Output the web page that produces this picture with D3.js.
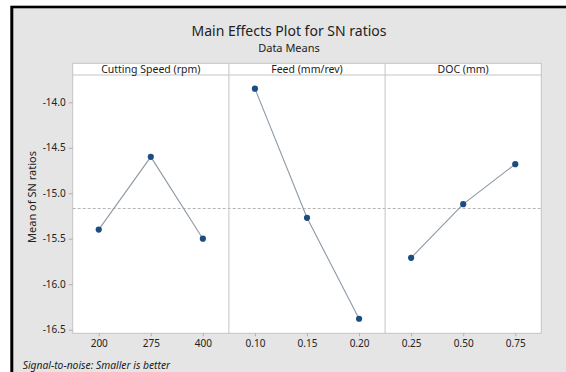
<!DOCTYPE html>
<html>
<head>
<meta charset="utf-8">
<script src="https://cdn.jsdelivr.net/npm/d3@7"></script>
<style>
  body { margin: 0; background: #fff; }
  text { font-family: "Noto Sans", "DejaVu Sans", sans-serif; fill: #222; }
</style>
</head>
<body>
<div id="wrapper"></div>
<script>
// data
const factors = ["Cutting Speed (rpm)", "Feed (mm/rev)", "DOC (mm)"]
const levels = [
  ["200", "275", "400"],
  ["0.10", "0.15", "0.20"],
  ["0.25", "0.50", "0.75"],
]
const snMeans = [
  [-15.40, -14.60, -15.50],
  [-13.85, -15.27, -16.38],
  [-15.71, -15.12, -14.68],
]
const yTicks = [-14.0, -14.5, -15.0, -15.5, -16.0, -16.5]

function drawChart() {
  const dimensions = {
    width: 566,
    height: 372,
    margin: { top: 75, left: 72.7, right: 24.7, bottom: 38.7 },
    stripHeight: 11.7,
  }
  dimensions.boundedWidth = dimensions.width - dimensions.margin.left - dimensions.margin.right
  dimensions.boundedHeight = dimensions.height - dimensions.margin.top - dimensions.margin.bottom

  const svg = d3.select("#wrapper")
    .append("svg")
      .attr("width", dimensions.width)
      .attr("height", dimensions.height)

  // black frame on top/left, grey figure background
  svg.append("rect")
      .attr("x", 10.3).attr("y", 5.7)
      .attr("width", dimensions.width).attr("height", dimensions.height)
      .attr("fill", "#000")
  svg.append("rect")
      .attr("x", 13.3).attr("y", 8.3)
      .attr("width", dimensions.width).attr("height", dimensions.height)
      .attr("fill", "#e5e5e5")

  // titles
  svg.append("text")
      .attr("x", 289).attr("y", 30.5)
      .attr("text-anchor", "middle").attr("dominant-baseline", "central")
      .style("font-size", "14px")
      .text("Main Effects Plot for SN ratios")
  svg.append("text")
      .attr("x", 289).attr("y", 47.5)
      .attr("text-anchor", "middle").attr("dominant-baseline", "central")
      .style("font-size", "11px")
      .text("Data Means")

  const bounds = svg.append("g")
      .attr("transform", `translate(${dimensions.margin.left}, ${dimensions.margin.top})`)

  // scales
  const yScale = d3.scaleLinear()
    .domain([-16.54, -13.70])
    .range([dimensions.boundedHeight, 0])

  const panelScale = d3.scaleBand()
    .domain(factors)
    .range([0, dimensions.boundedWidth])
    .padding(0)

  const grandMean = d3.mean(snMeans.flat())

  // plot area and strips
  bounds.append("rect")
      .attr("x", 0).attr("y", -dimensions.stripHeight)
      .attr("width", dimensions.boundedWidth)
      .attr("height", dimensions.boundedHeight + dimensions.stripHeight)
      .attr("fill", "#fff")
      .attr("stroke", "#c4c4c4")
  bounds.append("line")
      .attr("x1", 0).attr("x2", dimensions.boundedWidth)
      .attr("y1", 0).attr("y2", 0)
      .attr("stroke", "#c4c4c4")

  // grand mean reference line
  bounds.append("line")
      .attr("x1", 0).attr("x2", dimensions.boundedWidth)
      .attr("y1", yScale(grandMean)).attr("y2", yScale(grandMean))
      .attr("stroke", "#b5b5b5")
      .attr("stroke-dasharray", "3,2")

  // y axis (plain hyphen minus, as in the original)
  const fmt = d3.format(".1f")
  const yAxis = d3.axisLeft(yScale)
    .tickValues(yTicks)
    .tickFormat(d => fmt(d).replace("\u2212", "-"))
    .tickSize(4)
    .tickPadding(3)
  const yAxisGroup = bounds.append("g").call(yAxis)
  yAxisGroup.select(".domain").remove()
  yAxisGroup.selectAll(".tick line").attr("stroke", "#b0b0b0")
  yAxisGroup.selectAll(".tick text")
      .style("font-size", "10px")
      .style("font-family", "\"Noto Sans\", sans-serif")
      .attr("fill", "#222")

  bounds.append("text")
      .attr("transform", `translate(${31.7 - dimensions.margin.left}, ${197 - dimensions.margin.top}) rotate(-90)`)
      .attr("text-anchor", "middle").attr("dominant-baseline", "central")
      .style("font-size", "11px")
      .text("Mean of SN ratios")

  const lineGenerator = d3.line()

  factors.forEach((factor, i) => {
    const x0 = panelScale(factor)
    const panel = bounds.append("g")
        .attr("transform", `translate(${x0}, 0)`)

    const xScale = d3.scalePoint()
      .domain(levels[i])
      .range([0, panelScale.bandwidth()])
      .padding(0.5)

    if (i > 0) {
      panel.append("line")
          .attr("x1", 0).attr("x2", 0)
          .attr("y1", -dimensions.stripHeight).attr("y2", dimensions.boundedHeight)
          .attr("stroke", "#c4c4c4")
    }

    panel.append("text")
        .attr("x", panelScale.bandwidth() / 2)
        .attr("y", -dimensions.stripHeight / 2)
        .attr("text-anchor", "middle").attr("dominant-baseline", "central")
        .style("font-size", "10.5px")
        .text(factor)

    const points = levels[i].map((lvl, j) => [xScale(lvl), yScale(snMeans[i][j])])

    panel.append("path")
        .attr("d", lineGenerator(points))
        .attr("fill", "none")
        .attr("stroke", "#8d99a5")
        .attr("stroke-width", 1.1)

    panel.selectAll(".dot")
        .data(points)
      .enter().append("circle")
        .attr("cx", d => d[0])
        .attr("cy", d => d[1])
        .attr("r", 3.1)
        .attr("fill", "#1c4d82")

    const xAxis = d3.axisBottom(xScale)
      .tickSize(3)
      .tickPadding(4)
    const xAxisGroup = panel.append("g")
        .attr("transform", `translate(0, ${dimensions.boundedHeight})`)
        .call(xAxis)
    xAxisGroup.select(".domain").remove()
    xAxisGroup.selectAll(".tick line").attr("stroke", "#b0b0b0")
    xAxisGroup.selectAll(".tick text")
        .style("font-size", "10px")
        .style("font-family", "\"Noto Sans\", sans-serif")
        .attr("fill", "#222")
  })

  // footnote
  svg.append("text")
      .attr("x", 22.7).attr("y", 365)
      .attr("dominant-baseline", "central")
      .style("font-size", "10.3px")
      .style("font-style", "italic")
      .text("Signal-to-noise: Smaller is better")
}
drawChart()
</script>
</body>
</html>
